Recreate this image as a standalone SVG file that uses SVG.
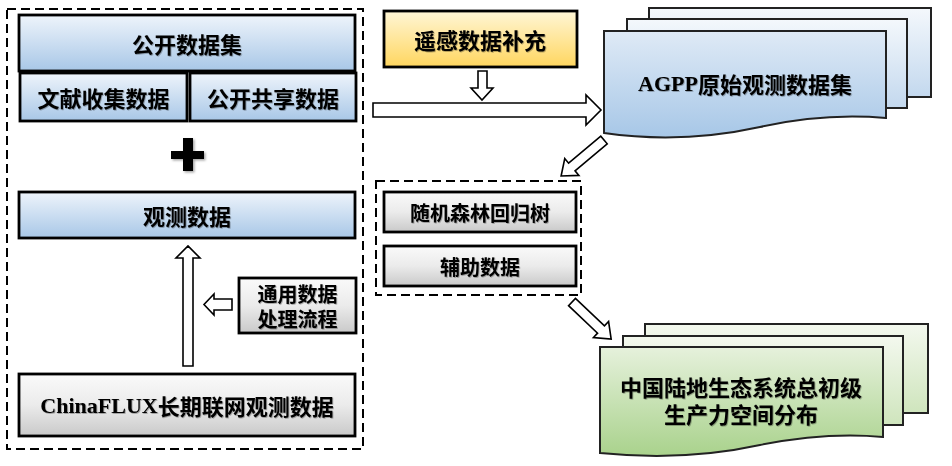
<svg xmlns="http://www.w3.org/2000/svg" width="952" height="466" viewBox="0 0 952 466">
<defs>
<linearGradient id="gBlue" x1="0" y1="0" x2="0" y2="1"><stop offset="0" stop-color="#eef4fb"/><stop offset="1" stop-color="#a8c7e7"/></linearGradient>
<linearGradient id="gGray" x1="0" y1="0" x2="0" y2="1"><stop offset="0" stop-color="#fafafa"/><stop offset="0.5" stop-color="#ebebeb"/><stop offset="1" stop-color="#c9c9c9"/></linearGradient>
<linearGradient id="gYel" x1="0" y1="0" x2="0" y2="1"><stop offset="0" stop-color="#fff6d6"/><stop offset="1" stop-color="#ffd65f"/></linearGradient>
<linearGradient id="gDocB" x1="0" y1="0" x2="0" y2="1"><stop offset="0" stop-color="#dfeaf6"/><stop offset="1" stop-color="#a7c7e7"/></linearGradient>
<linearGradient id="gDocB2" x1="0" y1="0" x2="0" y2="1"><stop offset="0" stop-color="#f4f8fc"/><stop offset="1" stop-color="#c3d8ee"/></linearGradient>
<linearGradient id="gDocG" x1="0" y1="0" x2="0" y2="1"><stop offset="0" stop-color="#e6f1dc"/><stop offset="1" stop-color="#a9d28c"/></linearGradient>
<linearGradient id="gDocG2" x1="0" y1="0" x2="0" y2="1"><stop offset="0" stop-color="#f3f8ee"/><stop offset="1" stop-color="#cfe5bd"/></linearGradient>
<filter id="ts" x="-5%" y="-20%" width="110%" height="140%"><feDropShadow dx="0.8" dy="0.8" stdDeviation="0.6" flood-color="#000" flood-opacity="0.35"/></filter>
<filter id="sh" x="-10%" y="-10%" width="130%" height="130%"><feDropShadow dx="1.5" dy="1.5" stdDeviation="1.2" flood-color="#000" flood-opacity="0.35"/></filter>
</defs>
<style>
.box{stroke:#000;stroke-width:2.8}
.doc{stroke:#222;stroke-width:2}
.dash{fill:none;stroke:#000;stroke-width:2;stroke-dasharray:9 5}
.arr{fill:#fff;stroke:#000;stroke-width:1.6;stroke-linejoin:miter}
.t{font-family:"Noto Sans CJK SC","Noto Sans",sans-serif;font-weight:700;fill:#000;text-anchor:middle;dominant-baseline:central;filter:url(#ts)}
.t22{font-size:22px}
.t20{font-size:20px}
.ser{font-family:"Liberation Serif",serif;font-weight:700}
</style>
<rect x="0" y="0" width="952" height="466" fill="#fff"/>

<rect class="dash" x="7" y="9" width="356" height="440"/>
<rect class="dash" x="376" y="181" width="205" height="114"/>

<g id="n-open">
<rect class="box" x="19" y="15" width="336" height="56" fill="url(#gBlue)"/>
<text class="t t22" x="187" y="43">公开数据集</text>
</g>
<g id="n-lit">
<rect class="box" x="20" y="73" width="167" height="48" fill="url(#gBlue)"/>
<text class="t t22" x="103.5" y="97">文献收集数据</text>
</g>
<g id="n-share">
<rect class="box" x="190" y="73" width="166" height="48" fill="url(#gBlue)"/>
<text class="t t22" x="273" y="97">公开共享数据</text>
</g>
<g id="plus" filter="url(#sh)">
<rect x="183" y="138" width="10" height="33" fill="#000"/>
<rect x="171" y="151" width="33" height="8" fill="#000"/>
</g>
<g id="n-obs">
<rect class="box" x="19" y="192" width="336" height="46" fill="url(#gBlue)"/>
<text class="t t22" x="187" y="215">观测数据</text>
</g>
<g id="n-proc">
<rect class="box" x="239" y="278" width="117" height="55" fill="url(#gGray)"/>
<text class="t t20" x="297.5" y="293">通用数据</text>
<text class="t t20" x="297.5" y="318">处理流程</text>
</g>
<g id="n-flux">
<rect class="box" x="19" y="374" width="336" height="62" fill="url(#gGray)"/>
<text class="t t22" x="187" y="405"><tspan class="ser">ChinaFLUX</tspan>长期联网观测数据</text>
</g>
<g id="n-rs">
<rect class="box" x="384" y="11" width="193" height="56" fill="url(#gYel)"/>
<text class="t t22" x="480" y="39">遥感数据补充</text>
</g>
<g id="n-agpp">
<rect class="doc" x="649" y="8" width="282" height="89" fill="url(#gDocB2)"/>
<rect class="doc" x="627" y="19" width="280" height="89" fill="url(#gDocB2)"/>
<path class="doc" d="M604,31 H886 V118 C840,114 800,118 760,127 C710,138 660,141 604,133 Z" fill="url(#gDocB)"/>
<text class="t t22" x="745" y="83"><tspan class="ser">AGPP</tspan>原始观测数据集</text>
</g>
<g id="n-rf">
<rect class="box" x="384" y="192" width="192" height="40" fill="url(#gGray)"/>
<text class="t t20" x="480" y="212">随机森林回归树</text>
</g>
<g id="n-aux">
<rect class="box" x="384" y="246" width="192" height="40" fill="url(#gGray)"/>
<text class="t t20" x="480" y="266">辅助数据</text>
</g>
<g id="n-gpp">
<rect class="doc" x="645" y="324" width="283" height="89" fill="url(#gDocG2)"/>
<rect class="doc" x="623" y="336" width="280" height="89" fill="url(#gDocG2)"/>
<path class="doc" d="M600,347 H883 V437 C840,433 800,437 760,445 C710,456 660,459 600,453 Z" fill="url(#gDocG)"/>
<text class="t t22" x="741" y="386">中国陆地生态系统总初级</text>
<text class="t t22" x="741" y="413">生产力空间分布</text>
</g>

<g id="connectors">
<polygon class="arr" points="373,103 586,103 586,95 601,110 586,125 586,117 373,117"/>
<polygon class="arr" points="478,71 487,71 487,88 493,88 482,100 471,88 478,88"/>
<polygon class="arr" points="183,366 183,258 176,258 188,246 200,258 193,258 193,366"/>
<polygon class="arr" points="232,299 214,299 214,294 204,304.5 214,315 214,310 232,310"/>
<polygon class="arr" transform="translate(604,140) rotate(140)" points="0,-5 42,-5 42,-11 56,0 42,11 42,5 0,5"/>
<polygon class="arr" transform="translate(572,302) rotate(43.5)" points="0,-5 40,-5 40,-11 54,0 40,11 40,5 0,5"/>
</g>
</svg>
